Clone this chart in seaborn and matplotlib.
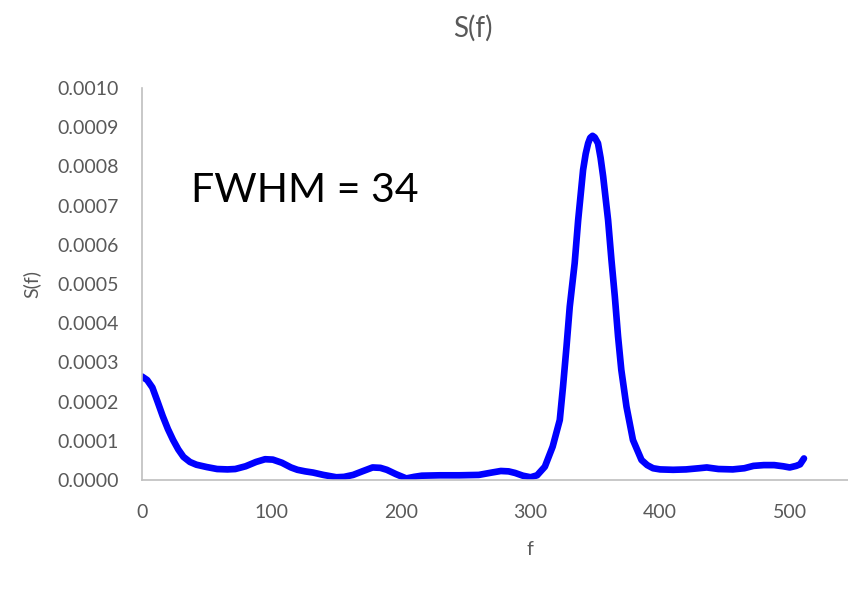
import matplotlib
matplotlib.use("Agg")
import matplotlib.pyplot as plt
import seaborn as sns
import pandas as pd

# Power spectrum S(f) sampled along the frequency axis
freq = [0, 4, 8, 12, 16, 20, 24, 28, 32, 37, 42, 50, 58, 66, 72, 80, 88, 95,
        101, 108, 115, 120, 126, 132, 140, 150, 156, 163, 170, 178, 184, 189,
        196, 204, 210, 216, 230, 245, 260, 270, 277, 283, 288, 294, 300, 305,
        311, 317, 322.5, 325, 327.7, 330.2, 334, 336.7, 340.5, 342.5, 344.4,
        346, 347.8, 349.5, 352, 354, 356, 359.8, 362.4, 365, 367.5, 370, 374,
        379, 385.6, 390, 394.5, 400, 410, 420, 430, 436, 445, 456, 465, 472,
        480, 488, 495, 500, 505, 508, 511]
power = [0.000264, 0.000255, 0.000236, 0.000200, 0.000163, 0.000130, 0.000102,
         0.000078, 0.000059, 0.000046, 0.000039, 0.000033, 0.000028, 0.000027,
         0.000028, 0.000035, 0.000046, 0.000053, 0.000052, 0.000044, 0.000032,
         0.000026, 0.000022, 0.000019, 0.000013, 0.000007, 0.000008, 0.000013,
         0.000022, 0.000032, 0.000031, 0.000026, 0.000015, 0.000004, 0.000008,
         0.000011, 0.000012, 0.000012, 0.000013, 0.000019, 0.000023, 0.000022,
         0.000018, 0.000011, 0.000007, 0.000012, 0.000034, 0.000085, 0.000153,
         0.000238, 0.000340, 0.000442, 0.000553, 0.000663, 0.000791, 0.000832,
         0.000859, 0.000873, 0.000878, 0.000874, 0.000859, 0.000822, 0.000774,
         0.000663, 0.000561, 0.000468, 0.000366, 0.000281, 0.000187, 0.000102,
         0.000051, 0.000038, 0.000030, 0.000027, 0.000026, 0.000027, 0.000030,
         0.000032, 0.000028, 0.000027, 0.000030, 0.000036, 0.000038, 0.000038,
         0.000035, 0.000032, 0.000036, 0.000040, 0.000055]

y_ticks = [0.0000, 0.0001, 0.0002, 0.0003, 0.0004, 0.0005, 0.0006, 0.0007,
           0.0008, 0.0009, 0.0010]
x_ticks = [0, 100, 200, 300, 400, 500]
fwhm_text = "FWHM = 34"

sns.set_theme(style="white")
plt.rcParams["font.family"] = ["Lato", "DejaVu Sans"]

grey = "#595959"
df = pd.DataFrame({"f": freq, "S(f)": power})

fig = plt.figure(figsize=(8.48, 6.06), dpi=100)
ax = fig.add_axes([142 / 848, 1 - 480 / 606, 1 - 142 / 848, (480 - 88) / 606])

sns.lineplot(data=df, x="f", y="S(f)", ax=ax, color="#0000ff", linewidth=4.8,
             solid_capstyle="round", solid_joinstyle="round", sort=False)

ax.set_xlim(0, 545)
ax.set_ylim(0, 0.001)
ax.set_xticks(x_ticks)
ax.set_yticks(y_ticks)
ax.set_yticklabels([f"{v:.4f}" for v in y_ticks])
ax.tick_params(axis="both", length=0, labelsize=14, labelcolor=grey)
ax.tick_params(axis="y", pad=17)
ax.tick_params(axis="x", pad=17)

for side in ("top", "right"):
    ax.spines[side].set_visible(False)
for side in ("left", "bottom"):
    ax.spines[side].set_color("#bfbfbf")
    ax.spines[side].set_linewidth(1.2)

ax.set_xlabel("f", fontsize=14, color=grey, labelpad=14)
ax.xaxis.set_label_coords((530 - 142) / 706, -0.155)
ax.set_ylabel("S(f)", fontsize=14, color=grey, labelpad=12)

fig.text(473 / 848, 1 - 28 / 606, "S(f)", ha="center", va="center",
         fontsize=20, color=grey)
ax.text(0.07, 0.709, fwhm_text, transform=ax.transAxes, fontsize=29.5,
        color="black", ha="left", va="baseline")

fig.savefig("out.png", dpi=100)
